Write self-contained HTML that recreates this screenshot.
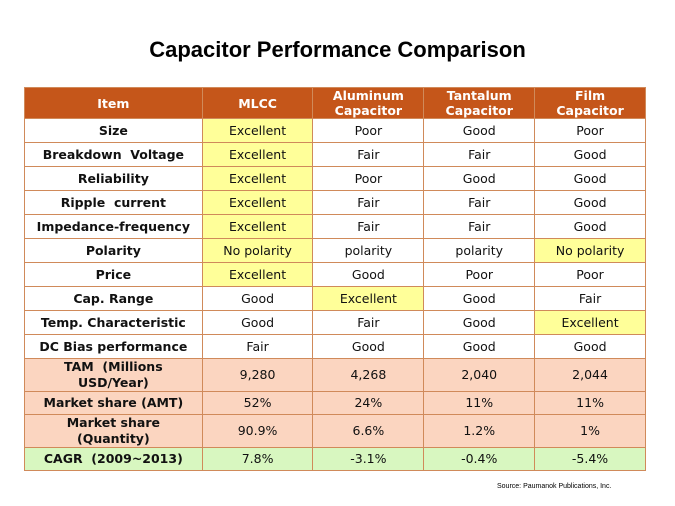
<!DOCTYPE html>
<html><head><meta charset="utf-8"><style>
body{margin:0;width:675px;height:506px;background:#fff;overflow:hidden;font-family:"DejaVu Sans","Liberation Sans",sans-serif;position:relative}
.t{position:absolute;top:37px;left:0;width:675px;text-align:center;font-weight:bold;font-size:22px;color:#000;font-family:"Liberation Sans",sans-serif}
table{position:absolute;left:24px;top:87px;border-collapse:collapse;width:622px}
td{border:1.5px solid #d08a5a;text-align:center;font-size:12.5px;color:#111;padding:0;line-height:16px}
td:first-child{font-weight:bold}
tr.h td{background:#c5561a;color:#fff;font-weight:bold;height:30px;font-size:12.5px;line-height:15px}
.y{background:#ffff99}
tr.p td{background:#fbd5c0}
tr.g td{background:#d8f7c0}
.src{position:absolute;left:497px;top:483px;font-size:7px;font-family:"Liberation Sans",sans-serif}
</style></head><body>
<div class="t">Capacitor Performance Comparison</div>
<table>
<colgroup><col style="width:178px"><col style="width:111px"><col style="width:111px"><col style="width:111px"><col style="width:111px"></colgroup>
<tr class="h"><td>Item</td><td>MLCC</td><td>Aluminum<br>Capacitor</td><td>Tantalum<br>Capacitor</td><td>Film<br>Capacitor</td></tr>
<tr style="height:24px"><td>Size</td><td class="y">Excellent</td><td>Poor</td><td>Good</td><td>Poor</td></tr>
<tr style="height:24px"><td>Breakdown&nbsp; Voltage</td><td class="y">Excellent</td><td>Fair</td><td>Fair</td><td>Good</td></tr>
<tr style="height:24px"><td>Reliability</td><td class="y">Excellent</td><td>Poor</td><td>Good</td><td>Good</td></tr>
<tr style="height:24px"><td>Ripple&nbsp; current</td><td class="y">Excellent</td><td>Fair</td><td>Fair</td><td>Good</td></tr>
<tr style="height:24px"><td>Impedance-frequency</td><td class="y">Excellent</td><td>Fair</td><td>Fair</td><td>Good</td></tr>
<tr style="height:24px"><td>Polarity</td><td class="y">No polarity</td><td>polarity</td><td>polarity</td><td class="y">No polarity</td></tr>
<tr style="height:24px"><td>Price</td><td class="y">Excellent</td><td>Good</td><td>Poor</td><td>Poor</td></tr>
<tr style="height:24px"><td>Cap. Range</td><td>Good</td><td class="y">Excellent</td><td>Good</td><td>Fair</td></tr>
<tr style="height:24px"><td>Temp. Characteristic</td><td>Good</td><td>Fair</td><td>Good</td><td class="y">Excellent</td></tr>
<tr style="height:24px"><td>DC Bias performance</td><td>Fair</td><td>Good</td><td>Good</td><td>Good</td></tr>
<tr class="p" style="height:33px"><td>TAM&nbsp; (Millions<br>USD/Year)</td><td>9,280</td><td>4,268</td><td>2,040</td><td>2,044</td></tr>
<tr class="p" style="height:23px"><td>Market share (AMT)</td><td>52%</td><td>24%</td><td>11%</td><td>11%</td></tr>
<tr class="p" style="height:33px"><td>Market share<br>(Quantity)</td><td>90.9%</td><td>6.6%</td><td>1.2%</td><td>1%</td></tr>
<tr class="g" style="height:23px"><td>CAGR&nbsp; (2009~2013)</td><td>7.8%</td><td>-3.1%</td><td>-0.4%</td><td>-5.4%</td></tr>
</table>
<div class="src">Source: Paumanok Publications, Inc.</div>
</body></html>
